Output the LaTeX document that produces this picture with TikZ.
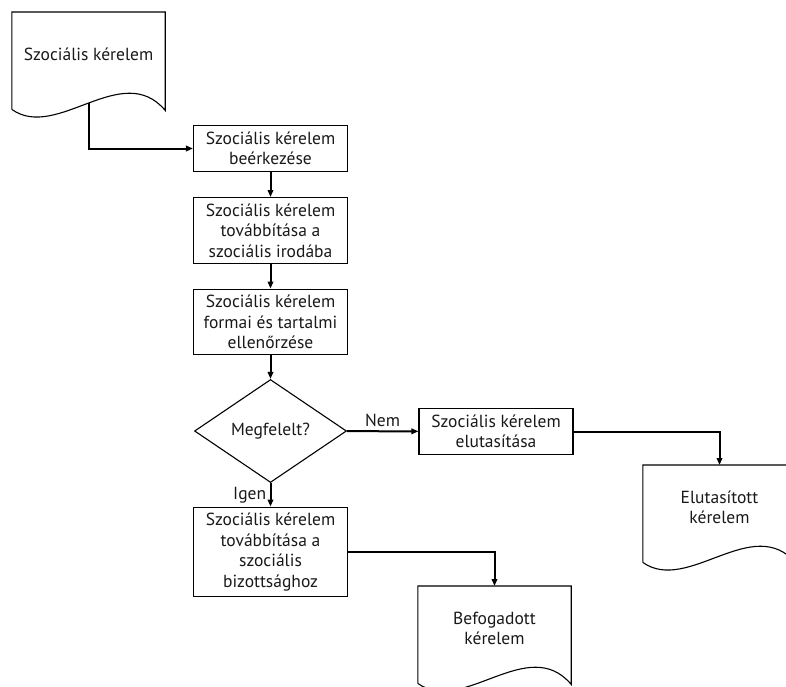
\documentclass[tikz,border=0pt]{standalone}
\usepackage{fontspec}
\setmainfont{PT Sans}
\usetikzlibrary{shapes.geometric,arrows.meta}

\tikzset{
	txt/.style={font=\fontsize{17.5}{20.5}\selectfont, text=black!90},
	stepbox/.style={txt, draw, line width=1.1pt, minimum width=154pt, inner xsep=3pt, inner ysep=6pt, align=center},
	decision/.style={txt, draw, diamond, line width=1.1pt, minimum width=152pt, minimum height=103pt, inner sep=0pt},
	docbox/.style={txt, anchor=north, minimum width=153pt, minimum height=84pt, inner sep=0pt, align=center},
	docline/.style={line width=1.1pt},
	flow/.style={line width=2pt, -{Triangle[length=7pt,width=5.5pt]}}
}

% document outline below a docbox node, #2 = point on the wave
\newcommand{\docshape}[2]{%
	\draw[docline] ([yshift=-13pt]#1.south west) -- (#1.north west) -- (#1.north east) -- ([yshift=-14pt]#1.south east)
		.. controls ([xshift=-43pt,yshift=37pt]#1.south east) and ([xshift=45pt,yshift=-45pt]#1.south west)
		.. ([yshift=-13pt]#1.south west) coordinate[pos=.5] (#2);
}

\begin{document}
\begin{tikzpicture}[x=1pt,y=-1pt]

	\useasboundingbox (0,0) rectangle (786,686);
	\clip (0,0) rectangle (786,686);

	% documents
	\node[docbox] (req) at (88.5,12) {Szociális kérelem};
	\docshape{req}{reqout}
	\node[docbox] (rejdoc) at (719.5,465) {Elutasított\\kérelem};
	\docshape{rejdoc}{rejout}
	\node[docbox] (accdoc) at (494.5,586) {Befogadott\\kérelem};
	\docshape{accdoc}{accout}

	% steps
	\node[stepbox] (arrive) at (270.5,148.5) {Szociális kérelem\\beérkezése};
	\node[stepbox] (office) at (270.5,230.5) {Szociális kérelem\\továbbítása a\\szociális irodába};
	\node[stepbox] (check) at (270.5,322) {Szociális kérelem\\formai és tartalmi\\ellenőrzése};
	\node[decision] (ok) at (270.5,431) {Megfelelt?};
	\node[stepbox] (reject) at (496,431.5) {Szociális kérelem\\elutasítása};
	\node[stepbox] (board) at (270.5,552) {Szociális kérelem\\továbbítása a\\szociális\\bizottsághoz};

	% connectors
	\draw[flow] (reqout) |- (arrive);
	\draw[flow] (arrive) -- (office);
	\draw[flow] (office) -- (check);
	\draw[flow] (check) -- (ok);
	\draw[flow] (ok) -- node[txt, above] {Nem} (reject);
	\draw[flow] (ok) -- node[txt, left] {Igen} (board);
	\draw[flow] (reject) -| (rejdoc);
	\draw[flow] (board) -| (accdoc);

\end{tikzpicture}
\end{document}
